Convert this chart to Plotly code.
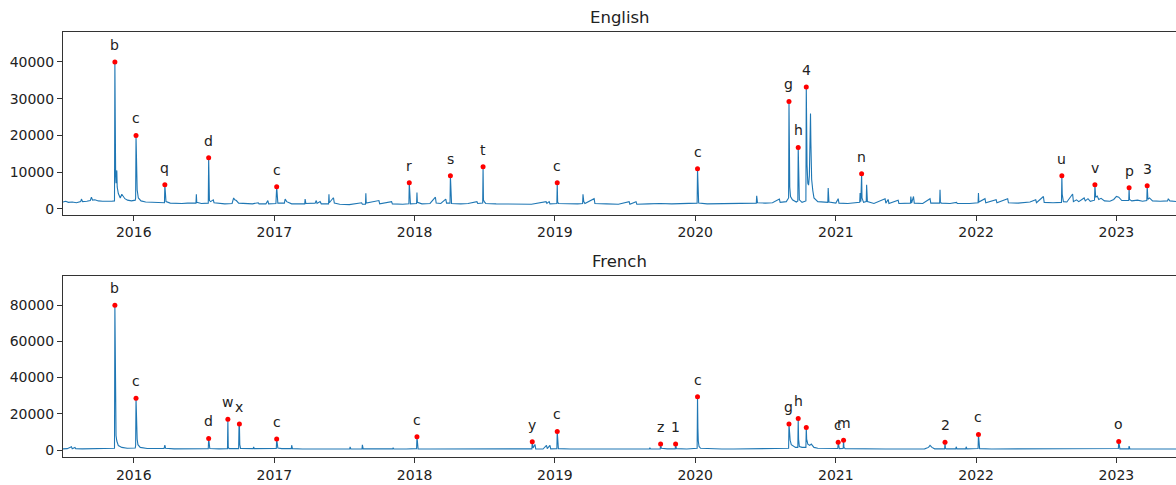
import plotly.graph_objects as go

# ---------------- data ----------------
eng_dates = [
    "2015-07-01","2015-07-08","2015-07-15","2015-07-25","2015-08-05","2015-08-16","2015-08-18","2015-08-21",
    "2015-09-01","2015-09-10","2015-09-13","2015-09-16","2015-09-22","2015-10-01","2015-10-12","2015-10-25",
    "2015-11-05","2015-11-12","2015-11-13","2015-11-14","2015-11-15","2015-11-16","2015-11-17","2015-11-18",
    "2015-11-19","2015-11-22","2015-11-27","2015-12-01","2015-12-04","2015-12-09","2015-12-16","2015-12-26",
    "2016-01-05","2016-01-06","2016-01-07","2016-01-08","2016-01-09","2016-01-10","2016-01-13","2016-01-20",
    "2016-02-01","2016-02-15","2016-03-01","2016-03-15","2016-03-21","2016-03-22","2016-03-23","2016-03-25",
    "2016-04-05","2016-04-20","2016-05-05","2016-05-20","2016-06-11","2016-06-12","2016-06-13","2016-06-25",
    "2016-07-13","2016-07-14","2016-07-15","2016-07-16","2016-07-19","2016-07-26","2016-07-28","2016-08-10",
    "2016-08-25","2016-09-13","2016-09-17","2016-09-20","2016-09-24","2016-09-30","2016-10-15","2016-11-05",
    "2016-11-20","2016-11-22","2016-12-10","2016-12-15","2016-12-17","2017-01-05","2017-01-07","2017-01-08",
    "2017-01-10","2017-01-27","2017-01-29","2017-02-02","2017-02-15","2017-03-21","2017-03-22","2017-03-24",
    "2017-04-17","2017-04-20","2017-04-22","2017-04-30","2017-05-03","2017-05-22","2017-05-23","2017-05-24",
    "2017-06-03","2017-06-04","2017-06-06","2017-06-20","2017-07-15","2017-08-16","2017-08-18","2017-08-26",
    "2017-08-27","2017-08-28","2017-09-30","2017-10-02","2017-11-02","2017-11-04","2017-12-01","2017-12-17",
    "2017-12-18","2017-12-19","2017-12-21","2018-01-06","2018-01-07","2018-01-08","2018-01-20","2018-02-10",
    "2018-02-24","2018-02-26","2018-03-10","2018-03-23","2018-03-25","2018-04-03","2018-04-04","2018-04-05",
    "2018-04-07","2018-05-01","2018-05-20","2018-06-12","2018-06-14","2018-06-27","2018-06-28","2018-06-29",
    "2018-07-01","2018-07-05","2018-08-01","2018-09-01","2018-10-01","2018-11-01","2018-12-09","2018-12-11",
    "2018-12-17","2018-12-19","2019-01-06","2019-01-07","2019-01-08","2019-01-10","2019-02-01","2019-03-01",
    "2019-03-14","2019-03-15","2019-03-17","2019-03-20","2019-04-13","2019-04-15","2019-05-15","2019-06-15",
    "2019-07-13","2019-07-15","2019-07-31","2019-08-02","2019-09-01","2019-10-01","2019-11-01","2019-12-01",
    "2020-01-06","2020-01-07","2020-01-08","2020-01-10","2020-02-01","2020-03-01","2020-04-01","2020-05-01",
    "2020-06-08","2020-06-09","2020-06-11","2020-07-01","2020-07-20","2020-08-07","2020-08-09","2020-08-25",
    "2020-08-31","2020-09-01","2020-09-02","2020-09-03","2020-09-05","2020-09-10","2020-09-20","2020-09-24",
    "2020-09-25","2020-09-26","2020-09-28","2020-10-05","2020-10-15","2020-10-16","2020-10-17","2020-10-18",
    "2020-10-20","2020-10-22","2020-10-24","2020-10-26","2020-10-27","2020-10-28","2020-10-30","2020-11-02",
    "2020-11-05","2020-11-15","2020-12-01","2020-12-11","2020-12-12","2020-12-14","2021-01-01","2021-01-07",
    "2021-01-09","2021-02-01","2021-03-04","2021-03-05","2021-03-07","2021-03-09","2021-03-10","2021-03-14",
    "2021-03-21","2021-03-22","2021-03-24","2021-04-10","2021-05-09","2021-05-11","2021-05-17","2021-05-19",
    "2021-06-12","2021-06-14","2021-07-14","2021-07-15","2021-07-17","2021-07-22","2021-07-24","2021-08-15",
    "2021-09-03","2021-09-05","2021-09-28","2021-09-29","2021-09-30","2021-10-02","2021-10-25","2021-11-11",
    "2021-11-13","2021-12-15","2022-01-06","2022-01-07","2022-01-08","2022-01-24","2022-01-26","2022-02-22",
    "2022-02-24","2022-03-24","2022-03-26","2022-04-20","2022-05-12","2022-05-21","2022-06-05","2022-06-07",
    "2022-06-25","2022-06-27","2022-07-20","2022-08-11","2022-08-12","2022-08-13","2022-08-16","2022-08-25",
    "2022-09-09","2022-09-11","2022-09-19","2022-09-25","2022-10-09","2022-10-12","2022-10-19","2022-10-25",
    "2022-11-05","2022-11-06","2022-11-08","2022-11-12","2022-11-16","2022-11-22","2022-12-01","2022-12-15",
    "2022-12-25","2023-01-01","2023-01-07","2023-01-15","2023-02-02","2023-02-03","2023-02-04","2023-02-10",
    "2023-02-25","2023-03-10","2023-03-21","2023-03-22","2023-03-24","2023-03-28","2023-04-05","2023-04-25",
    "2023-05-14","2023-05-16","2023-05-20","2023-06-10","2023-06-30",
]
eng_views = [
    1900,2100,1800,1900,1700,2000,2700,2000,
    2100,2300,3200,2400,2500,2200,2100,2000,
    2100,2200,40000,24000,9000,7000,8500,10500,
    6000,4200,3000,4000,3600,2800,2400,2200,
    2400,3000,20000,11000,6500,5200,3000,2200,
    1900,1800,1700,1600,1700,6600,3500,2000,
    1600,1500,1500,1600,1600,4000,1800,1500,
    1600,13950,5000,2300,2000,2500,1700,1500,
    1400,1500,3000,2500,2300,1600,1500,1400,
    1700,1400,1400,2300,1400,1500,6060,2600,
    1600,1600,2700,2000,1400,1400,2700,1500,
    1600,2300,1500,2000,1400,1400,4000,1700,
    3000,2900,1600,1300,1200,1700,1300,1300,
    4300,1600,2300,1400,2000,1400,1300,1400,
    7150,2000,1400,1500,4500,1800,1400,1500,
    3200,1600,1500,2700,1600,1600,9050,2200,
    1500,1400,1500,2000,1500,1600,11500,2500,
    2000,1500,1400,1300,1400,1300,2000,1500,
    2000,1400,1500,7150,2000,1500,1400,1400,
    1500,4000,2000,1500,2800,1500,1400,1300,
    2000,1300,2000,1300,1400,1500,1400,1500,
    1600,10950,2500,1600,1400,1400,1500,1500,
    1600,3600,1700,1600,1700,2700,1800,2000,
    3000,29260,12000,6000,3400,2500,1900,2200,
    16760,6000,2500,1800,2200,33200,20000,12000,
    7000,6500,9000,20000,26000,18000,8000,5000,
    3000,2000,1800,1800,5700,1900,1600,2800,
    1600,1500,1800,4350,2000,9600,3000,1800,
    2000,6600,2000,1500,2800,1600,2600,1500,
    2400,1500,1600,3400,1600,3400,1600,1500,
    2800,1600,1600,5240,2000,1600,1500,1800,
    1500,1500,1700,4350,1900,2800,1700,2500,
    1700,2800,1700,1600,1900,1900,2500,1700,
    3400,1800,1700,1800,9050,4000,2000,1900,
    4070,2000,2500,2000,3000,2200,2800,2100,
    2400,6600,3200,3500,2600,2900,2200,2100,
    2600,3400,3200,2300,2300,5800,2600,2200,
    2400,2100,2300,6330,2600,3000,2200,2100,
    2200,2800,2200,2000,2100,
]

fr_dates = [
    "2015-07-01","2015-07-12","2015-07-23","2015-07-25","2015-08-01","2015-08-03","2015-08-20","2015-09-10",
    "2015-10-01","2015-10-20","2015-11-05","2015-11-12","2015-11-13","2015-11-14","2015-11-15","2015-11-16",
    "2015-11-18","2015-11-22","2015-12-01","2015-12-15","2016-01-05","2016-01-06","2016-01-07","2016-01-08",
    "2016-01-09","2016-01-10","2016-01-12","2016-01-18","2016-02-05","2016-03-01","2016-03-20","2016-03-22",
    "2016-03-24","2016-04-15","2016-05-15","2016-06-15","2016-07-13","2016-07-14","2016-07-15","2016-07-17",
    "2016-08-10","2016-09-01","2016-09-02","2016-09-03","2016-09-05","2016-09-30","2016-10-01","2016-10-02",
    "2016-10-03","2016-10-05","2016-11-07","2016-11-08","2016-11-10","2016-12-10","2017-01-06","2017-01-07",
    "2017-01-08","2017-01-10","2017-01-20","2017-02-14","2017-02-15","2017-02-17","2017-03-15","2017-04-15",
    "2017-05-15","2017-06-15","2017-07-16","2017-07-17","2017-07-19","2017-08-17","2017-08-18","2017-08-20",
    "2017-09-20","2017-10-20","2017-11-05","2017-11-06","2017-11-08","2017-12-10","2018-01-06","2018-01-07",
    "2018-01-08","2018-01-10","2018-02-10","2018-03-10","2018-04-10","2018-05-10","2018-06-10","2018-07-10",
    "2018-08-10","2018-09-10","2018-10-10","2018-11-02","2018-11-03","2018-11-05","2018-11-10","2018-11-12",
    "2018-12-01","2018-12-10","2018-12-12","2018-12-19","2018-12-21","2019-01-06","2019-01-07","2019-01-08",
    "2019-01-10","2019-02-10","2019-03-10","2019-04-10","2019-05-10","2019-06-10","2019-07-10","2019-08-10",
    "2019-09-04","2019-09-05","2019-09-07","2019-10-02","2019-10-03","2019-10-05","2019-10-20","2019-11-10",
    "2019-11-11","2019-11-13","2019-12-10","2020-01-06","2020-01-07","2020-01-08","2020-01-09","2020-01-11",
    "2020-01-15","2020-02-10","2020-03-10","2020-04-10","2020-05-10","2020-06-10","2020-07-10","2020-08-10",
    "2020-08-31","2020-09-01","2020-09-02","2020-09-04","2020-09-07","2020-09-12","2020-09-18","2020-09-24",
    "2020-09-25","2020-09-26","2020-09-28","2020-10-05","2020-10-15","2020-10-16","2020-10-17","2020-10-20",
    "2020-10-25","2020-10-29","2020-11-05","2020-11-15","2020-12-10","2021-01-06","2021-01-07","2021-01-08",
    "2021-01-10","2021-01-20","2021-01-21","2021-01-22","2021-01-25","2021-02-15","2021-03-05","2021-03-06",
    "2021-03-08","2021-04-10","2021-05-10","2021-06-10","2021-07-10","2021-08-20","2021-08-30","2021-09-03",
    "2021-09-08","2021-09-15","2021-10-11","2021-10-12","2021-10-13","2021-10-15","2021-11-09","2021-11-10",
    "2021-11-12","2021-12-05","2021-12-06","2021-12-08","2022-01-06","2022-01-07","2022-01-08","2022-01-10",
    "2022-02-10","2022-03-10","2022-04-10","2022-05-10","2022-06-24","2022-06-25","2022-06-27","2022-08-06",
    "2022-08-07","2022-08-09","2022-09-22","2022-09-23","2022-09-25","2022-11-08","2022-11-09","2022-11-11",
    "2022-12-15","2023-01-06","2023-01-07","2023-01-08","2023-01-10","2023-02-02","2023-02-03","2023-02-05",
    "2023-03-10","2023-04-10","2023-05-10","2023-06-10","2023-06-30",
]
fr_views = [
    700,800,1800,800,1500,800,700,800,
    900,800,900,1000,79900,38000,15000,8000,
    5000,2500,1500,1000,1200,2500,28650,17000,
    10000,6000,3000,1500,900,800,900,2800,
    1000,700,700,700,800,6440,2500,900,
    700,800,17080,1500,800,800,13500,14330,
    3000,900,800,1800,800,700,900,6060,
    3000,1200,800,800,2700,800,600,600,
    600,600,600,1800,600,700,2870,700,
    600,600,700,1300,600,600,800,7330,
    2000,700,600,600,600,500,500,500,
    500,500,600,700,4570,1200,3140,700,
    600,2600,800,2600,700,800,10300,2500,
    800,600,600,600,500,500,500,500,
    600,1300,600,700,3300,1000,700,700,
    3300,800,600,1000,29370,12000,5000,2000,
    1000,700,600,600,600,600,600,700,
    1000,14330,8000,5500,3000,2500,1500,1500,
    17470,6000,2000,1500,1500,12500,6000,3300,
    2600,3300,1500,1000,800,900,4400,1500,
    800,900,5500,1500,800,700,700,900,
    700,600,600,600,600,700,1500,2580,
    1500,700,700,4400,1000,700,700,1840,
    700,700,1840,700,900,8650,2500,800,
    600,600,600,600,600,900,600,600,
    800,600,600,800,600,600,800,600,
    600,900,4790,1800,700,700,2200,700,
    600,600,600,600,600,
]

eng_peak_dates = ["2015-11-13","2016-01-07","2016-03-22","2016-07-14","2017-01-07","2017-12-18",
                  "2018-04-04","2018-06-28","2019-01-07","2020-01-07","2020-09-01","2020-09-25",
                  "2020-10-16","2021-03-09","2022-08-12","2022-11-06","2023-02-03","2023-03-22"]
eng_peak_labels = ["b","c","q","d","c","r","s","t","c","c","g","h","4","n","u","v","p","3"]

fr_peak_dates = ["2015-11-13","2016-01-07","2016-07-14","2016-09-02","2016-10-02","2017-01-07",
                 "2018-01-07","2018-11-03","2019-01-07","2019-10-03","2019-11-11","2020-01-07",
                 "2020-09-01","2020-09-25","2020-10-16","2021-01-07","2021-01-21","2021-10-12",
                 "2022-01-07","2023-01-07"]
fr_peak_labels = ["b","c","d","w","x","c","c","y","c","z","1","c",
                  "g","h","","c","m","2","c","o"]

year_ticks = ["2016-01-01","2017-01-01","2018-01-01","2019-01-01",
              "2020-01-01","2021-01-01","2022-01-01","2023-01-01"]
year_labels = ["2016","2017","2018","2019","2020","2021","2022","2023"]
eng_yticks = [0, 10000, 20000, 30000, 40000]
fr_yticks = [0, 20000, 40000, 60000, 80000]

# ---------------- figure ----------------
W, H = 1176, 485
LINE = "#1f77b4"
FONT = "DejaVu Sans"

fig = go.Figure()

def add_panel(dates, views, pk_dates, pk_labels, xa, ya):
    lookup = dict(zip(dates, views))
    fig.add_trace(go.Scatter(x=dates, y=views, mode="lines",
                             line=dict(color=LINE, width=1.1),
                             xaxis=xa, yaxis=ya, showlegend=False, hoverinfo="x+y"))
    pk_vals = [lookup[d] for d in pk_dates]
    fig.add_trace(go.Scatter(x=pk_dates, y=pk_vals, mode="markers",
                             marker=dict(color="red", size=5),
                             xaxis=xa, yaxis=ya, showlegend=False))
    for d, v, lab in zip(pk_dates, pk_vals, pk_labels):
        if not lab:
            continue
        fig.add_annotation(x=d, y=v, xref=xa, yref=ya, text=lab, showarrow=False,
                           xanchor="center", yanchor="middle", yshift=17,
                           font=dict(family=FONT, size=14, color="#222"))

add_panel(eng_dates, eng_views, eng_peak_dates, eng_peak_labels, "x", "y")
add_panel(fr_dates, fr_views, fr_peak_dates, fr_peak_labels, "x2", "y2")

xrange_ = ["2015-07-01", "2023-06-05"]
common_x = dict(range=xrange_, type="date", tickvals=year_ticks, ticktext=year_labels,
                ticks="outside", ticklen=5, tickwidth=1, tickcolor="#333",
                showline=True, linecolor="#333", linewidth=1, mirror=True,
                showgrid=False, zeroline=False, automargin=False,
                tickfont=dict(family=FONT, size=14, color="#222"))
common_y = dict(ticks="outside", ticklen=5, tickwidth=1, tickcolor="#333",
                showline=True, linecolor="#333", linewidth=1, mirror=False,
                showgrid=False, zeroline=False, automargin=False,
                tickfont=dict(family=FONT, size=14, color="#222"))

top1, bot1 = 1 - 32 / H, 1 - 214.5 / H
top2, bot2 = 1 - 276 / H, 1 - 457 / H

fig.update_layout(
    width=W, height=H, autosize=False,
    margin=dict(l=63, r=0, t=0, b=0, autoexpand=False),
    plot_bgcolor="white", paper_bgcolor="white",
    font=dict(family=FONT),
    xaxis=dict(**common_x, domain=[0, 1], anchor="y"),
    yaxis=dict(**common_y, domain=[bot1, top1], anchor="x", range=[-1500, 48150],
               tickvals=eng_yticks, ticktext=[str(v) for v in eng_yticks]),
    xaxis2=dict(**common_x, domain=[0, 1], anchor="y2"),
    yaxis2=dict(**common_y, domain=[bot2, top2], anchor="x2", range=[-3800, 96000],
                tickvals=fr_yticks, ticktext=[str(v) for v in fr_yticks]),
)

fig.add_annotation(text="English", xref="paper", yref="paper", x=0.5, y=1 - 17.3 / H,
                   showarrow=False, xanchor="center", yanchor="middle",
                   font=dict(family=FONT, size=16.5, color="#222"))
fig.add_annotation(text="French", xref="paper", yref="paper", x=0.5, y=1 - 261.5 / H,
                   showarrow=False, xanchor="center", yanchor="middle",
                   font=dict(family=FONT, size=16.5, color="#222"))

fig.write_html(
    "out.html",
    config={"responsive": False, "displayModeBar": False},
    post_script="document.body.style.margin='0px';document.body.style.overflow='hidden';",
)
